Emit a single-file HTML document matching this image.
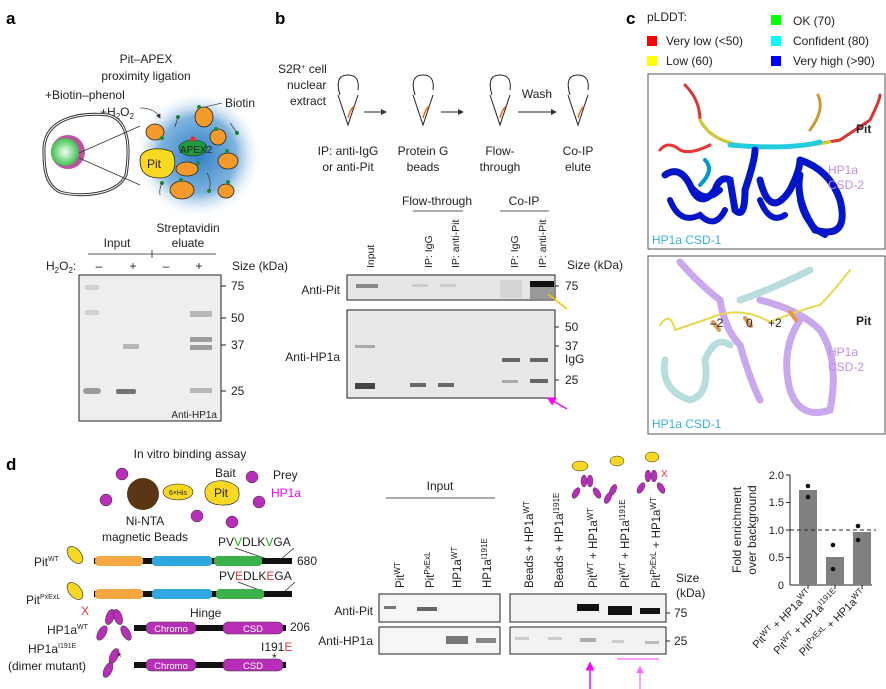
<!DOCTYPE html>
<html><head><meta charset="utf-8"><style>
body{margin:0;background:#fff}
svg{display:block}
text{font-family:"Liberation Sans",sans-serif;fill:#222}
.b{font-weight:bold;font-size:17px;fill:#000}
.s{font-size:12px}
.m{font-size:10px}
</style></head><body>
<svg width="886" height="689" viewBox="0 0 886 689" xmlns="http://www.w3.org/2000/svg">
<defs>
<radialGradient id="glow"><stop offset="0" stop-color="#2f7fc4"/><stop offset="0.6" stop-color="#7fb3de"/><stop offset="1" stop-color="#fff" stop-opacity="0"/></radialGradient>
<radialGradient id="nuc"><stop offset="0" stop-color="#f2fff2"/><stop offset="1" stop-color="#3fbf4f"/></radialGradient>
<marker id="ah" markerWidth="6" markerHeight="6" refX="5" refY="3" orient="auto"><path d="M0,0L6,3L0,6z" fill="#333"/></marker>
<marker id="mh" markerWidth="6" markerHeight="6" refX="5" refY="3" orient="auto"><path d="M0,0L6,3L0,6z" fill="#f0f"/></marker>
<marker id="lh" markerWidth="6" markerHeight="6" refX="5" refY="3" orient="auto"><path d="M0,0L6,3L0,6z" fill="#f6f"/></marker>
</defs>

<!-- Panel a -->
<text x="6" y="24" class="b">a</text>
<text x="146" y="63" class="s" text-anchor="middle">Pit–APEX</text>
<text x="146" y="80" class="s" text-anchor="middle">proximity ligation</text>
<text x="45" y="99" class="s">+Biotin–phenol</text>
<text x="100" y="116" class="s">+H<tspan font-size="8" dy="3">2</tspan><tspan dy="-3">O</tspan><tspan font-size="8" dy="3">2</tspan></text>
<path d="M44,153 C42,118 80,112 108,115 C130,120 130,150 126,175 C118,195 80,198 60,192 C46,185 44,170 44,153z" fill="none" stroke="#333" stroke-width="3"/>
<path d="M44,153 C42,118 80,112 108,115 C130,120 130,150 126,175 C118,195 80,198 60,192 C46,185 44,170 44,153z" fill="none" stroke="#fff" stroke-width="1"/>
<circle cx="68" cy="152" r="17" fill="#c050a0"/>
<circle cx="65" cy="152" r="14" fill="url(#nuc)"/>
<line x1="79" y1="153" x2="140" y2="126" stroke="#333" stroke-width="0.8"/>
<line x1="79" y1="158" x2="140" y2="185" stroke="#333" stroke-width="0.8"/>
<circle cx="198" cy="155" r="64" fill="url(#glow)"/>
<path d="M140,108 Q155,108 160,118" fill="none" stroke="#456" stroke-width="0.8" marker-end="url(#ah)"/>
<text x="225" y="107" class="s">Biotin</text>
<line x1="222" y1="103" x2="205" y2="107" stroke="#456" stroke-width="0.8"/>
<g fill="#f39a2a" stroke="#222" stroke-width="0.8">
<ellipse cx="155" cy="132" rx="9" ry="8"/><ellipse cx="204" cy="117" rx="9" ry="10"/>
<ellipse cx="218" cy="137" rx="8" ry="8"/><ellipse cx="228" cy="161" rx="10" ry="8"/>
<ellipse cx="187" cy="169" rx="11" ry="7"/><ellipse cx="182" cy="190" rx="12" ry="9"/>
<ellipse cx="226" cy="191" rx="8" ry="7"/>
</g>
<ellipse cx="193" cy="148" rx="14" ry="8" fill="#1f9a3f" stroke="#222" stroke-width="0.6"/>
<circle cx="193" cy="139" r="2.5" fill="#f22"/>
<text x="180" y="153" font-size="10">APEX2</text>
<path d="M140,160 C140,148 160,146 172,152 C178,162 175,178 160,178 C146,178 140,172 140,160z" fill="#f8d820" stroke="#222" stroke-width="0.8"/>
<text x="147" y="168" class="s">Pit</text>
<g fill="#1a8a3a"><circle cx="162" cy="138" r="2"/><circle cx="178" cy="117" r="2"/><circle cx="199" cy="107" r="2"/><circle cx="216" cy="129" r="2"/><circle cx="227" cy="151" r="2"/><circle cx="198" cy="163" r="2"/><circle cx="181" cy="180" r="2"/><circle cx="228" cy="182" r="2"/><circle cx="162" cy="183" r="2"/><circle cx="209" cy="191" r="2"/><circle cx="237" cy="133" r="2"/></g>
<g fill="none" stroke="#333" stroke-width="0.7"><path d="M178,117 q-2,6 -3,10"/><path d="M237,133 q-4,-6 -7,-10"/><path d="M162,183 q-3,6 -2,12"/><path d="M209,191 q3,-10 -2,-18"/></g>

<text x="188" y="232" class="s" text-anchor="middle">Streptavidin</text>
<text x="188" y="247" class="s" text-anchor="middle">eluate</text>
<text x="117" y="247" class="s" text-anchor="middle">Input</text>
<line x1="88" y1="254" x2="216" y2="254" stroke="#222" stroke-width="0.8"/>
<line x1="152" y1="250" x2="152" y2="258" stroke="#222" stroke-width="0.8"/>
<text x="46" y="270" class="s">H<tspan font-size="8" dy="3">2</tspan><tspan dy="-3">O</tspan><tspan font-size="8" dy="3">2</tspan><tspan dy="-3">:</tspan></text>
<text x="99" y="270" class="s" text-anchor="middle">–</text><text x="133" y="270" class="s" text-anchor="middle">+</text>
<text x="166" y="270" class="s" text-anchor="middle">–</text><text x="199" y="270" class="s" text-anchor="middle">+</text>
<text x="232" y="270" class="s">Size (kDa)</text>
<rect x="79" y="275" width="142" height="146" fill="#eee" stroke="#222" stroke-width="1"/>
<g fill="#888" opacity="0.8"><rect x="83" y="388" width="18" height="6" rx="3"/><rect x="116" y="389" width="20" height="5" rx="2" fill="#555"/><rect x="190" y="311" width="22" height="6" fill="#aaa"/><rect x="190" y="337" width="22" height="5"/><rect x="190" y="345" width="22" height="5"/><rect x="123" y="344" width="16" height="5" fill="#aaa"/><rect x="190" y="388" width="22" height="5" fill="#aaa"/><rect x="85" y="310" width="14" height="5" fill="#ccc"/><rect x="85" y="285" width="14" height="5" fill="#ccc"/></g>
<g stroke="#222"><line x1="221" y1="286" x2="226" y2="286"/><line x1="221" y1="318" x2="226" y2="318"/><line x1="221" y1="345" x2="226" y2="345"/><line x1="221" y1="391" x2="226" y2="391"/></g>
<text x="231" y="290" class="s">75</text><text x="231" y="322" class="s">50</text><text x="231" y="349" class="s">37</text><text x="231" y="395" class="s">25</text>
<text x="217" y="418" font-size="10" text-anchor="end">Anti-HP1a</text>

<!-- Panel b -->
<text x="275" y="24" class="b">b</text>
<text x="278" y="73" class="s">S2R<tspan font-size="7" dy="-4">+</tspan><tspan dy="4"> cell</tspan></text>
<text x="287" y="89" class="s">nuclear</text><text x="290" y="105" class="s">extract</text>
<g fill="none" stroke="#222" stroke-width="1">
<path d="M338,95 l10,30 l10,-30 M340,95 q-6,-20 8,-20 q12,0 10,15"/>
<path d="M413,95 l10,30 l10,-30 M415,95 q-6,-20 8,-20 q12,0 10,15"/>
<path d="M490,95 l10,30 l10,-30 M492,95 q-6,-20 8,-20 q12,0 10,15"/>
<path d="M568,95 l10,30 l10,-30 M570,95 q-6,-20 8,-20 q12,0 10,15"/>
<line x1="364" y1="112" x2="386" y2="112" marker-end="url(#ah)"/>
<line x1="441" y1="112" x2="463" y2="112" marker-end="url(#ah)"/>
<line x1="518" y1="112" x2="556" y2="112" marker-end="url(#ah)"/>
</g>
<g stroke="#e8661a" stroke-width="1.5" fill="none"><path d="M348,118 q2,-8 6,-12"/><path d="M423,118 q2,-8 6,-12"/><path d="M500,118 q2,-8 6,-12"/><path d="M578,118 q2,-8 6,-12"/></g>
<text x="537" y="98" class="s" text-anchor="middle">Wash</text>
<g text-anchor="middle">
<text x="348" y="155" class="s">IP: anti-IgG</text><text x="348" y="171" class="s">or anti-Pit</text>
<text x="423" y="155" class="s">Protein G</text><text x="423" y="171" class="s">beads</text>
<text x="500" y="155" class="s">Flow-</text><text x="500" y="171" class="s">through</text>
<text x="578" y="155" class="s">Co-IP</text><text x="578" y="171" class="s">elute</text>
</g>
<text x="437" y="205" class="s" text-anchor="middle">Flow-through</text>
<text x="524" y="205" class="s" text-anchor="middle">Co-IP</text>
<line x1="413" y1="211" x2="463" y2="211" stroke="#222" stroke-width="0.8"/>
<line x1="500" y1="211" x2="549" y2="211" stroke="#222" stroke-width="0.8"/>
<g font-size="10.5">
<text transform="translate(374,268) rotate(-90)">Input</text>
<text transform="translate(432,268) rotate(-90)">IP: IgG</text>
<text transform="translate(459,268) rotate(-90)">IP: anti-Pit</text>
<text transform="translate(518,268) rotate(-90)">IP: IgG</text>
<text transform="translate(546,268) rotate(-90)">IP: anti-Pit</text>
</g>
<text x="567" y="269" class="s">Size (kDa)</text>
<rect x="347" y="275" width="208" height="25" fill="#e6e6e6" stroke="#222"/>
<rect x="356" y="284" width="22" height="4" fill="#888"/>
<rect x="412" y="284" width="16" height="3" fill="#ccc"/><rect x="440" y="284" width="16" height="3" fill="#ccc"/>
<rect x="500" y="280" width="22" height="18" fill="#d4d4d4"/>
<rect x="530" y="281" width="24" height="6" fill="#111"/><rect x="530" y="287" width="24" height="12" fill="#999"/>
<rect x="347" y="310" width="208" height="88" fill="#e8e8e8" stroke="#222"/>
<g fill="#666"><rect x="355" y="383" width="20" height="6" fill="#444"/><rect x="410" y="383" width="16" height="4"/><rect x="438" y="383" width="16" height="4"/><rect x="502" y="358" width="18" height="4"/><rect x="530" y="358" width="18" height="4"/><rect x="530" y="379" width="18" height="4"/><rect x="502" y="380" width="16" height="3" fill="#aaa"/><rect x="355" y="345" width="20" height="3" fill="#aaa"/></g>
<text x="340" y="294" class="s" text-anchor="end">Anti-Pit</text>
<text x="340" y="361" class="s" text-anchor="end">Anti-HP1a</text>
<g stroke="#222"><line x1="555" y1="286" x2="559" y2="286"/><line x1="555" y1="327" x2="559" y2="327"/><line x1="555" y1="346" x2="559" y2="346"/><line x1="555" y1="380" x2="559" y2="380"/></g>
<text x="565" y="290" class="s">75</text><text x="565" y="331" class="s">50</text><text x="565" y="350" class="s">37</text><text x="565" y="363" class="s">IgG</text><text x="565" y="384" class="s">25</text>
<line x1="567" y1="309" x2="548" y2="294" stroke="#f4c400" stroke-width="1.5"/>
<line x1="567" y1="409" x2="548" y2="398" stroke="#f0f" stroke-width="1.5" marker-end="url(#mh)"/>

<!-- Panel c -->
<text x="626" y="24" class="b">c</text>
<text x="647" y="21" class="s">pLDDT:</text>
<rect x="647" y="36" width="10" height="10" fill="#f00"/><text x="666" y="45" class="s">Very low (&lt;50)</text>
<rect x="647" y="56" width="10" height="10" fill="#ff0"/><text x="666" y="65" class="s">Low (60)</text>
<rect x="771" y="15" width="10" height="10" fill="#0f0"/><text x="793" y="25" class="s">OK (70)</text>
<rect x="771" y="36" width="10" height="10" fill="#0ff"/><text x="793" y="45" class="s">Confident (80)</text>
<rect x="771" y="56" width="10" height="10" fill="#00f"/><text x="793" y="65" class="s">Very high (&gt;90)</text>
<rect x="648" y="74" width="237" height="175" fill="#fff" stroke="#555"/>
<g fill="none" stroke-linecap="round">
<path d="M685,85 Q700,100 700,120 Q710,140 740,145 Q790,150 840,140 L870,120 Q880,100 880,95" stroke="#d33" stroke-width="3"/>
<path d="M700,120 Q710,140 740,145 Q790,150 830,142" stroke="#cc3" stroke-width="3"/>
<path d="M730,145 Q790,150 820,142" stroke="#2cd" stroke-width="5"/>
<path d="M660,150 Q668,140 680,150 Q690,155 710,145" stroke="#e33" stroke-width="3"/>
<path d="M810,130 Q825,110 818,95" stroke="#c93" stroke-width="3"/>
<path d="M665,175 Q680,165 690,185 Q700,210 715,190 Q720,175 730,180 L735,210 Q745,220 745,190 Q755,160 755,150 M760,180 Q770,220 790,190 Q800,170 800,160 M800,160 Q830,170 840,200 Q850,240 815,230 Q795,200 800,175" stroke="#0016c8" stroke-width="7"/>
<path d="M670,200 Q680,225 700,215 Q715,230 725,210 M690,185 Q705,205 720,190 M760,200 Q770,225 785,215 M800,200 Q805,225 825,235" stroke="#0016c8" stroke-width="6"/>
<path d="M700,185 Q715,170 705,160" stroke="#09c" stroke-width="4"/>
</g>
<text x="652" y="244" class="s" style="fill:#3ab0e0">HP1a CSD-1</text>
<text x="856" y="133" class="s" font-weight="bold">Pit</text>
<text x="828" y="174" class="s" style="fill:#c48ee8">HP1a</text><text x="828" y="189" class="s" style="fill:#c48ee8">CSD-2</text>
<rect x="648" y="256" width="237" height="178" fill="#fff" stroke="#555"/>
<g fill="none" stroke-linecap="round">
<path d="M680,262 Q700,285 720,300 Q725,330 740,345 Q750,380 760,400 M760,300 Q800,310 820,330 Q840,360 830,410 Q800,420 790,390 Q780,350 800,320" stroke="#c9a8ee" stroke-width="7"/>
<path d="M665,360 Q660,390 690,400 Q710,395 705,360 Q715,335 730,345 M740,300 Q770,290 810,270" stroke="#b9dddd" stroke-width="7"/>
<path d="M660,325 Q670,310 675,330 Q690,325 710,318 Q740,305 770,322 Q800,310 820,305 Q835,290 850,270" stroke="#e8d850" stroke-width="2"/>
<path d="M713,322 l6,8 M745,318 l6,8 M790,312 l6,8" stroke="#e09a50" stroke-width="4"/>
</g>
<text x="710" y="327" class="s">–2</text><text x="746" y="327" class="s">0</text><text x="768" y="327" class="s">+2</text>
<text x="856" y="325" class="s" font-weight="bold">Pit</text>
<text x="828" y="356" class="s" style="fill:#c48ee8">HP1a</text><text x="828" y="371" class="s" style="fill:#c48ee8">CSD-2</text>
<text x="652" y="428" class="s" style="fill:#3ab0e0">HP1a CSD-1</text>

<!-- Panel d -->
<text x="6" y="470" class="b">d</text>
<text x="190" y="458" class="s" text-anchor="middle">In vitro binding assay</text>
<g fill="#b82eb8" stroke="#333" stroke-width="0.5">
<circle cx="122" cy="474" r="6"/><circle cx="106" cy="500" r="6"/><circle cx="252" cy="477" r="6"/><circle cx="259" cy="502" r="6"/><circle cx="197" cy="516" r="6"/><circle cx="232" cy="522" r="6"/>
</g>
<circle cx="143" cy="494" r="16" fill="#5a3614"/>
<ellipse cx="178" cy="492" rx="15" ry="8" fill="#f8d820" stroke="#222" stroke-width="0.6"/>
<text x="178" y="495" font-size="7" text-anchor="middle">6×His</text>
<path d="M205,490 C208,478 230,478 238,488 C242,500 235,506 220,505 C208,504 204,498 205,490z" fill="#f8d820" stroke="#222" stroke-width="0.6"/>
<text x="214" y="497" class="s">Pit</text>
<text x="215" y="477" class="s">Bait</text>
<text x="273" y="479" class="s">Prey</text>
<text x="271" y="497" class="s" style="fill:#f0f">HP1a</text>
<text x="145" y="525" class="s" text-anchor="middle">Ni-NTA</text>
<text x="145" y="541" class="s" text-anchor="middle">magnetic Beads</text>
<text x="218" y="546" class="s">PV<tspan style="fill:#2a2">V</tspan>DLK<tspan style="fill:#2a2">V</tspan>GA</text>
<text x="219" y="580" class="s">PV<tspan style="fill:#e33">E</tspan>DLK<tspan style="fill:#e33">E</tspan>GA</text>
<g stroke="#222" stroke-width="0.7"><line x1="235" y1="548" x2="270" y2="560"/><line x1="294" y1="548" x2="280" y2="560"/><line x1="238" y1="582" x2="270" y2="594"/><line x1="295" y1="582" x2="282" y2="594"/></g>
<rect x="94" y="558" width="198" height="6" fill="#111"/>
<rect x="95" y="556" width="48" height="10" rx="4" fill="#f5a742"/><rect x="152" y="556" width="60" height="10" rx="4" fill="#2fa8e0"/><rect x="214" y="556" width="48" height="10" rx="4" fill="#3cb04a"/>
<text x="297" y="565" class="s">680</text>
<rect x="94" y="591" width="198" height="6" fill="#111"/>
<rect x="95" y="589" width="48" height="10" rx="4" fill="#f5a742"/><rect x="152" y="589" width="60" height="10" rx="4" fill="#2fa8e0"/><rect x="216" y="589" width="48" height="10" rx="4" fill="#3cb04a"/>
<text x="34" y="566" class="s">Pit<tspan font-size="7" dy="-5">WT</tspan></text>
<text x="26" y="604" class="s">Pit<tspan font-size="7" dy="-5">PxExL</tspan></text>
<ellipse cx="75" cy="555" rx="6" ry="10" transform="rotate(-40 75 555)" fill="#f8d820" stroke="#222" stroke-width="0.6"/>
<ellipse cx="75" cy="591" rx="6" ry="10" transform="rotate(-40 75 591)" fill="#f8d820" stroke="#222" stroke-width="0.6"/>
<text x="81" y="615" class="s" style="fill:#e33">X</text>
<text x="190" y="617" class="s">Hinge</text>
<rect x="134" y="625" width="152" height="6" fill="#111"/>
<rect x="146" y="622" width="50" height="12" rx="5" fill="#b82eb8" stroke="#333" stroke-width="0.5"/><text x="171" y="632" font-size="9.5" text-anchor="middle" style="fill:#fff">Chromo</text>
<rect x="223" y="622" width="60" height="12" rx="5" fill="#b82eb8" stroke="#333" stroke-width="0.5"/><text x="253" y="632" font-size="9.5" text-anchor="middle" style="fill:#fff">CSD</text>
<text x="290" y="631" class="s">206</text>
<text x="261" y="651" class="s">I191<tspan style="fill:#e33">E</tspan></text>
<text x="272" y="662" font-size="12">*</text>
<rect x="134" y="662" width="152" height="6" fill="#111"/>
<rect x="146" y="659" width="50" height="12" rx="5" fill="#b82eb8" stroke="#333" stroke-width="0.5"/><text x="171" y="669" font-size="9.5" text-anchor="middle" style="fill:#fff">Chromo</text>
<rect x="223" y="659" width="60" height="12" rx="5" fill="#b82eb8" stroke="#333" stroke-width="0.5"/><text x="253" y="669" font-size="9.5" text-anchor="middle" style="fill:#fff">CSD</text>
<text x="47" y="634" class="s">HP1a<tspan font-size="7" dy="-5">WT</tspan></text>
<text x="28" y="653" class="s">HP1a<tspan font-size="7" dy="-5">I191E</tspan></text>
<text x="8" y="670" class="s">(dimer mutant)</text>
<g fill="#b82eb8" stroke="#333" stroke-width="0.5">
<ellipse cx="110" cy="617" rx="4" ry="8" transform="rotate(20 110 617)"/><ellipse cx="118" cy="617" rx="4" ry="8" transform="rotate(-20 118 617)"/><ellipse cx="102" cy="633" rx="4" ry="8" transform="rotate(30 102 633)"/><ellipse cx="126" cy="633" rx="4" ry="8" transform="rotate(-30 126 633)"/>
<ellipse cx="114" cy="656" rx="4" ry="8" transform="rotate(25 114 656)"/><ellipse cx="108" cy="670" rx="4" ry="8" transform="rotate(25 108 670)"/>
</g>
<text x="117" y="661" font-size="12">*</text>

<text x="440" y="490" class="s" text-anchor="middle">Input</text>
<line x1="386" y1="498" x2="495" y2="498" stroke="#222" stroke-width="0.8"/>
<g font-size="11.5">
<text transform="translate(404,588) rotate(-90)">Pit<tspan font-size="8" dy="-4">WT</tspan></text>
<text transform="translate(434,588) rotate(-90)">Pit<tspan font-size="8" dy="-4">PxExL</tspan></text>
<text transform="translate(461,588) rotate(-90)">HP1a<tspan font-size="8" dy="-4">WT</tspan></text>
<text transform="translate(491,588) rotate(-90)">HP1a<tspan font-size="8" dy="-4">I191E</tspan></text>
<text transform="translate(533,588) rotate(-90)">Beads + HP1a<tspan font-size="8" dy="-4">WT</tspan></text>
<text transform="translate(563,588) rotate(-90)">Beads + HP1a<tspan font-size="8" dy="-4">I191E</tspan></text>
<text transform="translate(597,588) rotate(-90)">Pit<tspan font-size="8" dy="-4">WT</tspan><tspan dy="4"> + HP1a</tspan><tspan font-size="8" dy="-4">WT</tspan></text>
<text transform="translate(629,588) rotate(-90)">Pit<tspan font-size="8" dy="-4">WT</tspan><tspan dy="4"> + HP1a</tspan><tspan font-size="8" dy="-4">I191E</tspan></text>
<text transform="translate(660,588) rotate(-90)">Pit<tspan font-size="8" dy="-4">PxExL</tspan><tspan dy="4"> + HP1a</tspan><tspan font-size="8" dy="-4">WT</tspan></text>
</g>
<g fill="#f8d820" stroke="#222" stroke-width="0.5">
<ellipse cx="580" cy="466" rx="8" ry="5"/><ellipse cx="617" cy="461" rx="7" ry="5"/><ellipse cx="652" cy="457" rx="7" ry="5"/>
</g>
<g fill="#b82eb8" stroke="#333" stroke-width="0.4">
<ellipse cx="584" cy="481" rx="3" ry="6"/><ellipse cx="590" cy="481" rx="3" ry="6"/><ellipse cx="576" cy="493" rx="3" ry="6" transform="rotate(30 576 493)"/><ellipse cx="597" cy="493" rx="3" ry="6" transform="rotate(-30 597 493)"/>
<ellipse cx="613" cy="490" rx="3" ry="6" transform="rotate(25 613 490)"/><ellipse cx="608" cy="498" rx="3" ry="6" transform="rotate(25 608 498)"/>
<ellipse cx="648" cy="476" rx="3" ry="6"/><ellipse cx="654" cy="476" rx="3" ry="6"/><ellipse cx="641" cy="488" rx="3" ry="6" transform="rotate(30 641 488)"/><ellipse cx="661" cy="488" rx="3" ry="6" transform="rotate(-30 661 488)"/>
</g>
<text x="661" y="477" font-size="10" style="fill:#e33">X</text>
<text x="676" y="582" class="s">Size</text><text x="676" y="597" class="s">(kDa)</text>
<rect x="379" y="594" width="121" height="28" fill="#f6f6f6" stroke="#222"/>
<rect x="379" y="627" width="121" height="27" fill="#f6f6f6" stroke="#222"/>
<rect x="510" y="594" width="156" height="28" fill="#f2f2f2" stroke="#222"/>
<rect x="510" y="627" width="156" height="27" fill="#f2f2f2" stroke="#222"/>
<rect x="384" y="606" width="12" height="3" fill="#777"/><rect x="417" y="607" width="20" height="4" fill="#666"/>
<rect x="446" y="636" width="22" height="8" fill="#777"/><rect x="476" y="638" width="20" height="5" fill="#888"/>
<rect x="577" y="604" width="22" height="7" fill="#111"/><rect x="608" y="606" width="24" height="9" fill="#111"/><rect x="640" y="608" width="20" height="6" fill="#111"/>
<g fill="#ccc"><rect x="515" y="637" width="14" height="3"/><rect x="548" y="637" width="14" height="3"/><rect x="580" y="638" width="16" height="4" fill="#aaa"/><rect x="612" y="640" width="12" height="3"/><rect x="645" y="641" width="14" height="3" fill="#bbb"/></g>
<text x="373" y="615" class="s" text-anchor="end">Anti-Pit</text>
<text x="373" y="645" class="s" text-anchor="end">Anti-HP1a</text>
<g stroke="#222"><line x1="666" y1="613" x2="670" y2="613"/><line x1="666" y1="641" x2="670" y2="641"/></g>
<text x="674" y="617" class="s">75</text><text x="674" y="645" class="s">25</text>
<line x1="590" y1="689" x2="590" y2="663" stroke="#f0f" stroke-width="1.5" marker-end="url(#mh)"/>
<line x1="617" y1="659" x2="659" y2="659" stroke="#f6f" stroke-width="1.2"/>
<line x1="640" y1="689" x2="640" y2="667" stroke="#f6f" stroke-width="1.2" marker-end="url(#lh)"/>

<!-- bar chart -->
<text transform="translate(741,530) rotate(-90)" class="s" text-anchor="middle">Fold enrichment</text>
<text transform="translate(756,530) rotate(-90)" class="s" text-anchor="middle">over background</text>
<line x1="790" y1="475" x2="790" y2="585" stroke="#222"/>
<line x1="790" y1="585" x2="872" y2="585" stroke="#222"/>
<g stroke="#222"><line x1="786" y1="475" x2="790" y2="475"/><line x1="786" y1="502.5" x2="790" y2="502.5"/><line x1="786" y1="530" x2="790" y2="530"/><line x1="786" y1="557.5" x2="790" y2="557.5"/><line x1="808" y1="585" x2="808" y2="589"/><line x1="835" y1="585" x2="835" y2="589"/><line x1="862" y1="585" x2="862" y2="589"/></g>
<g font-size="11" text-anchor="end"><text x="784" y="479">2.0</text><text x="784" y="506">1.5</text><text x="784" y="534">1.0</text><text x="784" y="561">0.5</text><text x="784" y="589">0</text></g>
<rect x="799" y="490" width="18" height="95" fill="#808080"/>
<rect x="826" y="557" width="18" height="28" fill="#808080"/>
<rect x="853" y="532" width="18" height="53" fill="#808080"/>
<line x1="790" y1="530" x2="876" y2="530" stroke="#222" stroke-dasharray="4,3"/>
<g fill="#111"><circle cx="808" cy="486" r="2.3"/><circle cx="808" cy="497" r="2.3"/><circle cx="833" cy="545" r="2.3"/><circle cx="833" cy="569" r="2.3"/><circle cx="858" cy="526" r="2.3"/><circle cx="858" cy="540" r="2.3"/></g>
<g font-size="11" text-anchor="end">
<text transform="translate(812,594) rotate(-45)">Pit<tspan font-size="8" dy="-4">WT</tspan><tspan dy="4"> + HP1a</tspan><tspan font-size="8" dy="-4">WT</tspan></text>
<text transform="translate(839,594) rotate(-45)">Pit<tspan font-size="8" dy="-4">WT</tspan><tspan dy="4"> + HP1a</tspan><tspan font-size="8" dy="-4">I191E</tspan></text>
<text transform="translate(866,594) rotate(-45)">Pit<tspan font-size="8" dy="-4">PxExL</tspan><tspan dy="4"> + HP1a</tspan><tspan font-size="8" dy="-4">WT</tspan></text>
</g>
</svg>
</body></html>
